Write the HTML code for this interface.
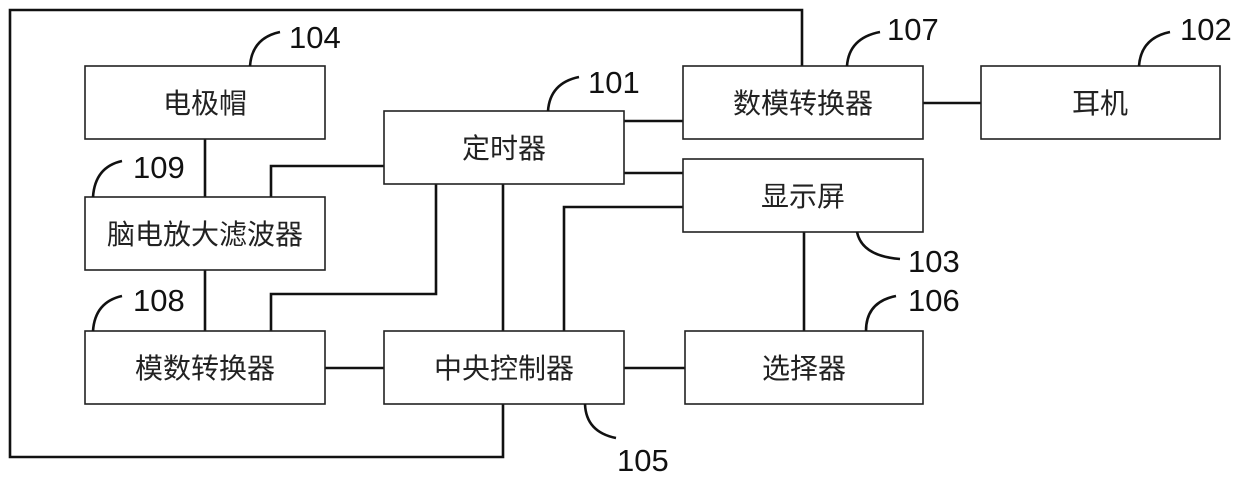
<!DOCTYPE html>
<html><head><meta charset="utf-8"><style>
html,body{margin:0;padding:0;background:#fff;}
svg{display:block;}
.b{fill:#fff;stroke:#222;stroke-width:1.6;}
.l{stroke:#111;stroke-width:2.6;fill:none;}
.c{stroke:#111;stroke-width:2.6;fill:none;}
.t{font-family:"Liberation Sans","Noto Sans CJK SC",sans-serif;font-size:28px;fill:#222;text-anchor:middle;}
.n{font-family:"Liberation Sans",sans-serif;font-size:31px;fill:#111;}
</style></head><body>
<svg width="1240" height="482" viewBox="0 0 1240 482">
<polyline class="l" points="503,404 503,457 10,457 10,10 802,10 802,66"/>
<line class="l" x1="205" y1="139" x2="205" y2="197"/>
<line class="l" x1="205" y1="270" x2="205" y2="331"/>
<polyline class="l" points="384,166 271,166 271,197"/>
<polyline class="l" points="436,184 436,294 271,294 271,331"/>
<line class="l" x1="503" y1="184" x2="503" y2="331"/>
<line class="l" x1="325" y1="368" x2="384" y2="368"/>
<line class="l" x1="624" y1="368" x2="685" y2="368"/>
<polyline class="l" points="564,331 564,207 683,207"/>
<line class="l" x1="624" y1="121" x2="683" y2="121"/>
<line class="l" x1="624" y1="173" x2="683" y2="173"/>
<line class="l" x1="804" y1="232" x2="804" y2="331"/>
<line class="l" x1="923" y1="103" x2="981" y2="103"/>
<rect class="b" x="85" y="66" width="240" height="73"/>
<rect class="b" x="85" y="197" width="240" height="73"/>
<rect class="b" x="85" y="331" width="240" height="73"/>
<rect class="b" x="384" y="111" width="240" height="73"/>
<rect class="b" x="384" y="331" width="240" height="73"/>
<rect class="b" x="683" y="66" width="240" height="73"/>
<rect class="b" x="683" y="159" width="240" height="73"/>
<rect class="b" x="685" y="331" width="238" height="73"/>
<rect class="b" x="981" y="66" width="239" height="73"/>
<text class="t" x="205" y="113">电极帽</text>
<text class="t" x="205" y="244">脑电放大滤波器</text>
<text class="t" x="205" y="378">模数转换器</text>
<text class="t" x="504" y="158">定时器</text>
<text class="t" x="504" y="378">中央控制器</text>
<text class="t" x="803" y="113">数模转换器</text>
<text class="t" x="803" y="206">显示屏</text>
<text class="t" x="804" y="378">选择器</text>
<text class="t" x="1100" y="113">耳机</text>
<path class="c" d="M250,66 Q252,38 280,32"/>
<path class="c" d="M548,111 Q550,83 579,77"/>
<path class="c" d="M93,197 Q95,167 122,161"/>
<path class="c" d="M93,331 Q95,302 122,296"/>
<path class="c" d="M585,404 Q586,432 616,438"/>
<path class="c" d="M847,66 Q849,38 880,32"/>
<path class="c" d="M1139,66 Q1141,38 1170,32"/>
<path class="c" d="M857,232 Q862,256 900,259"/>
<path class="c" d="M866,331 Q866,302 896,296"/>
<text class="n" x="289" y="48">104</text>
<text class="n" x="588" y="93">101</text>
<text class="n" x="133" y="178">109</text>
<text class="n" x="133" y="311">108</text>
<text class="n" x="617" y="471">105</text>
<text class="n" x="887" y="40">107</text>
<text class="n" x="1180" y="40">102</text>
<text class="n" x="908" y="272">103</text>
<text class="n" x="908" y="311">106</text>
</svg>
</body></html>
